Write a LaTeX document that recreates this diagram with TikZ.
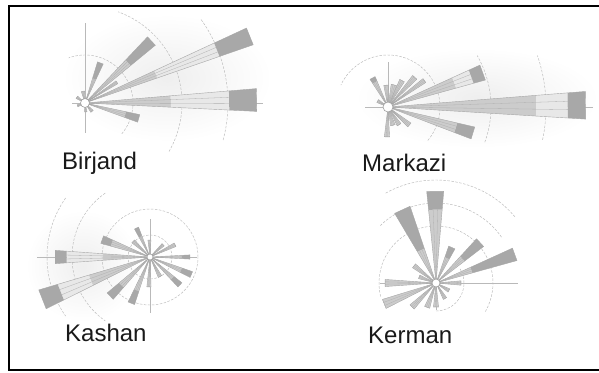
\documentclass[tikz,border=0pt]{standalone}
\usepackage{fontspec}
\setmainfont{Liberation Sans}
\tikzset{
  barA/.style={fill=gray!40},
  barB/.style={fill=gray!18},
  barC/.style={fill=gray!68},
  barline/.style={draw=gray!70, line width=0.4pt, line join=round},
  stripe/.style={draw=gray!62, line width=0.3pt},
  axisline/.style={draw=gray!55, line width=0.5pt},
  ring/.style={draw=gray!55, line width=0.45pt, dash pattern=on 2.5pt off 1.5pt},
  speckle/.style={inner color=gray!13, outer color=white, draw=none},
  hub/.style={fill=white, draw=gray!75, line width=0.6pt},
  lab/.style={anchor=base west, inner sep=0pt, font=\fontsize{24}{28}\selectfont, text=black!90},
  frame/.style={draw=black, line width=2pt}
}
% angle, length, half-angle, f1 (end of mid part), f2 (start of dark tip)
\newcommand\wbar[5]{%
  \fill[barA] (0,0) -- ({#1-#3}:{#2*#4}) -- ({#1+#3}:{#2*#4}) -- cycle;
  \fill[barB] ({#1-#3}:{#2*#4}) -- ({#1-#3}:{#2*#5}) -- ({#1+#3}:{#2*#5}) -- ({#1+#3}:{#2*#4}) -- cycle;
  \fill[barC] ({#1-#3}:{#2*#5}) -- ({#1-#3}:{#2}) -- ({#1+#3}:{#2}) -- ({#1+#3}:{#2*#5}) -- cycle;
  \draw[stripe] (0,0) -- ({#1-#3/3}:{#2*#5}) (0,0) -- ({#1+#3/3}:{#2*#5});
  \draw[barline] (0,0) -- ({#1-#3}:{#2}) -- ({#1+#3}:{#2}) -- cycle;
}
\begin{document}
\begin{tikzpicture}[x=1pt,y=-1pt]
\useasboundingbox (0,0) rectangle (599,372);
\fill[white] (0,0) rectangle (599,372);
\draw[frame] (599,6) -- (9,6) -- (9,370) -- (599,370);

% ---------- Birjand ----------
\shade[speckle] (62,14) rectangle (272,142);
\begin{scope}[shift={(85,103)}, yscale=-1]
  \draw[axisline] (-13,0) -- (178,0);
  \draw[axisline] (0,80) -- (0,-30);
  \draw[ring] (-40:48) arc[start angle=-40, end angle=110, radius=48];
  \draw[ring] (-30:97) arc[start angle=-30, end angle=70, radius=97];
  \draw[ring] (-15:143) arc[start angle=-15, end angle=36, radius=143];
  \wbar{1}{172}{3.8}{0.5}{0.84}
  \wbar{22}{178}{2.9}{0.43}{0.8}
  \wbar{43}{91}{3.6}{0.65}{0.65}
  \wbar{33}{38}{2.5}{1}{1}
  \wbar{69}{43}{4}{0.6}{0.6}
  \wbar{-16}{56}{4}{0.75}{0.75}
  \wbar{100}{12}{8}{1}{1}
  \wbar{145}{10}{8}{1}{1}
  \wbar{-50}{11}{8}{1}{1}
  \wbar{-85}{9}{8}{1}{1}
  \wbar{200}{8}{8}{1}{1}
  \filldraw[hub] (0,0) circle (4.5);
\end{scope}
\node[lab] (birjand) at (62,169) {Birjand};

% ---------- Markazi ----------
\shade[speckle] (355,48) rectangle (599,148);
\begin{scope}[shift={(388,107)}, yscale=-1]
  \draw[axisline] (-23,0) -- (205,0);
  \draw[axisline] (0,45) -- (0,-30);
  \draw[ring] (-40:52) arc[start angle=-40, end angle=155, radius=52];
  \draw[ring] (-20:103) arc[start angle=-20, end angle=30, radius=103];
  \draw[ring] (-12:158) arc[start angle=-12, end angle=19, radius=158];
  \wbar{0.5}{198}{4}{0.75}{0.91}
  \wbar{20}{101}{4.5}{0.7}{0.88}
  \wbar{-17}{89}{4}{0.8}{0.8}
  \wbar{36}{45}{3}{1}{1}
  \wbar{48}{40}{4}{1}{1}
  \wbar{62}{30}{5}{1}{1}
  \wbar{75}{23}{7}{1}{1}
  \wbar{95}{22}{6}{1}{1}
  \wbar{118}{33}{5}{0.85}{0.85}
  \wbar{150}{12}{8}{1}{1}
  \wbar{-92}{30}{5}{1}{1}
  \wbar{-75}{19}{7}{1}{1}
  \wbar{-58}{21}{6}{1}{1}
  \wbar{-40}{28}{5}{1}{1}
  \filldraw[hub] (0,0) circle (5);
\end{scope}
\node[lab] (markazi) at (362,171) {Markazi};

% ---------- Kashan ----------
\shade[speckle] (26,210) rectangle (140,322);
\begin{scope}[shift={(150,257)}, yscale=-1]
  \draw[axisline] (-113,0) -- (47,0);
  \draw[axisline] (0,38) -- (0,-56);
  \draw[ring] (0,0) circle (22);
  \draw[ring] (0,0) circle (48);
  \draw[ring] (125:78) arc[start angle=125, end angle=235, radius=78];
  \draw[ring] (145:103) arc[start angle=145, end angle=215, radius=103];
  \wbar{180}{95}{4}{0.5}{0.88}
  \wbar{201.5}{116}{5}{0.55}{0.83}
  \wbar{160}{51}{4.5}{0.8}{0.8}
  \wbar{224.5}{56}{4.5}{0.72}{0.72}
  \wbar{248}{50}{4}{0.72}{0.72}
  \wbar{268}{30}{4}{1}{1}
  \wbar{115}{32}{4}{0.7}{0.7}
  \wbar{92}{17}{5}{1}{1}
  \wbar{137}{23}{5}{1}{1}
  \wbar{43}{18}{5}{1}{1}
  \wbar{26}{28}{4}{1}{1}
  \wbar{0}{40}{3}{0.8}{0.8}
  \wbar{-23}{45}{4}{0.75}{0.75}
  \wbar{-43}{41}{4}{0.75}{0.75}
  \wbar{-63}{22}{5}{1}{1}
  \filldraw[hub] (0,0) circle (3);
\end{scope}
\node[lab] (kashan) at (65,341) {Kashan};

% ---------- Kerman ----------
\begin{scope}[shift={(436,283)}, yscale=-1]
  \draw[axisline] (-56,0) -- (82,0);
  \draw[axisline] (0,0) -- (0,-27);
  \draw[ring] (-90:28) arc[start angle=-90, end angle=30, radius=28];
  \draw[ring] (-30:57) arc[start angle=-30, end angle=195, radius=57];
  \draw[ring] (35:80) arc[start angle=35, end angle=135, radius=80];
  \draw[ring] (40:103) arc[start angle=40, end angle=120, radius=103];
  \wbar{90.5}{92}{5.3}{0.8}{0.8}
  \wbar{114.7}{81}{6}{0.45}{0.45}
  \wbar{42.5}{60}{5}{0.6}{0.6}
  \wbar{20}{84}{4.5}{0.45}{0.45}
  \wbar{66}{39}{5}{0.7}{0.7}
  \wbar{180}{51}{4}{1}{1}
  \wbar{202}{56}{5}{1}{1}
  \wbar{225}{34}{5}{1}{1}
  \wbar{250}{26}{6}{1}{1}
  \wbar{270}{24}{6}{1}{1}
  \wbar{142}{28}{5}{1}{1}
  \wbar{160}{18}{6}{1}{1}
  \wbar{-60}{18}{6}{1}{1}
  \wbar{-30}{15}{7}{1}{1}
  \wbar{0}{25}{5}{1}{1}
  \filldraw[hub] (0,0) circle (4);
\end{scope}
\node[lab] (kerman) at (368,343) {Kerman};
\end{tikzpicture}
\end{document}
